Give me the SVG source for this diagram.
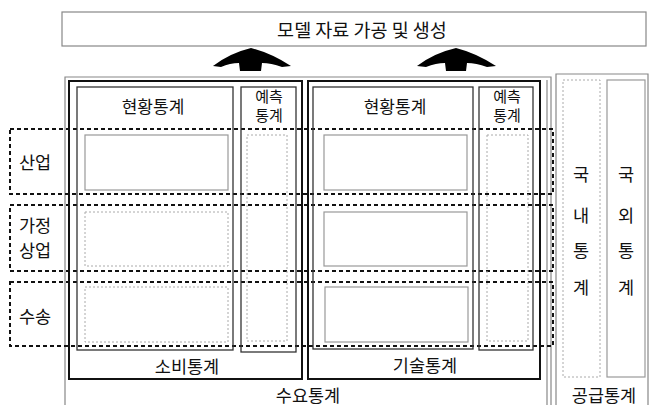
<svg xmlns="http://www.w3.org/2000/svg" width="652" height="405" viewBox="0 0 652 405">
<style>
text{font-family:"Noto Sans CJK KR","Noto Sans",sans-serif;fill:#111;text-anchor:middle;dominant-baseline:central}
.h{font-size:18.5px}
.t{font-size:17.5px}
.s{font-size:17px}
.p{font-size:15px}
.frame{fill:none;stroke:#888;stroke-width:1.2}
.thick{fill:none;stroke:#111;stroke-width:2}
.mid{fill:none;stroke:#333;stroke-width:1.3}
.gray{fill:none;stroke:#999;stroke-width:1.2}
.dot{fill:none;stroke:#aaa;stroke-width:1;stroke-dasharray:2 2}
.dash{fill:none;stroke:#111;stroke-width:2;stroke-dasharray:4 3}
.arrow{fill:#000}
</style>
<rect width="652" height="405" fill="#fff"/>
<g id="top">
<rect class="frame" x="62" y="12" width="584" height="34"/>
<text class="h" x="362" y="29">모델 자료 가공 및 생성</text>
</g>
<g id="connectors">
<path class="arrow" d="M213,66 Q230,53 251,48 Q271,53 291,66 L282,67 Q271,63 262,63 L261,71 L240,71 L239,63 Q230,63 221,67 Z"/>
<path class="arrow" d="M417,66 Q434,53 456,48 Q476,53 496,66 L487,67 Q476,63 467,63 L466,71 L446,71 L445,63 Q436,63 426,67 Z"/>
</g>
<g id="demand">
<path class="frame" d="M65,405 L65,77 L551,77 L551,405"/>
<line class="frame" x1="547" y1="80" x2="547" y2="405"/>
<text class="t" x="308" y="394">수요통계</text>
</g>
<g id="rows">
<rect class="dash" x="10" y="129" width="543" height="65"/>
<rect class="dash" x="10" y="205" width="543" height="66"/>
<rect class="dash" x="10" y="282" width="543" height="64"/>
<text class="t" x="35" y="161">산업</text>
<text class="t" x="35" y="224">가정</text>
<text class="t" x="35" y="249">상업</text>
<text class="t" x="35" y="315">수송</text>
</g>
<g id="consumption">
<rect class="thick" x="69" y="81" width="233" height="298"/>
<text class="t" x="187" y="365">소비통계</text>
<rect class="mid" x="77" y="87" width="156" height="263"/>
<text class="s" x="153" y="105">현황통계</text>
<rect class="mid" x="241" y="87" width="55" height="265"/>
<text class="p" x="269" y="95">예측</text>
<text class="p" x="269" y="114">통계</text>
<rect class="gray" x="85" y="135" width="143" height="55"/>
<rect class="dot" x="85" y="212" width="143" height="54"/>
<rect class="dot" x="85" y="287" width="143" height="55"/>
<rect class="dot" x="247" y="135" width="40" height="206"/>
</g>
<g id="technology">
<rect class="thick" x="308" y="81" width="232" height="298"/>
<text class="t" x="425" y="364">기술통계</text>
<rect class="mid" x="313" y="87" width="160" height="262"/>
<text class="s" x="395" y="105">현황통계</text>
<rect class="mid" x="479" y="87" width="54" height="263"/>
<text class="p" x="507" y="95">예측</text>
<text class="p" x="507" y="114">통계</text>
<rect class="gray" x="324" y="135" width="143" height="55"/>
<rect class="gray" x="324" y="212" width="143" height="54"/>
<rect class="gray" x="325" y="287" width="143" height="55"/>
<rect class="dot" x="487" y="135" width="41" height="206"/>
</g>
<g id="supply">
<path class="frame" d="M556,405 L556,74 L648,74 L648,405"/>
<text class="t" x="604" y="394">공급통계</text>
<rect class="dot" x="563" y="80" width="37" height="297"/>
<rect class="gray" x="607" y="80" width="38" height="297"/>
<text class="t" x="581" y="173">국</text>
<text class="t" x="581" y="214">내</text>
<text class="t" x="581" y="249">통</text>
<text class="t" x="581" y="286">계</text>
<text class="t" x="626" y="173">국</text>
<text class="t" x="626" y="214">외</text>
<text class="t" x="626" y="249">통</text>
<text class="t" x="626" y="286">계</text>
</g>
</svg>
